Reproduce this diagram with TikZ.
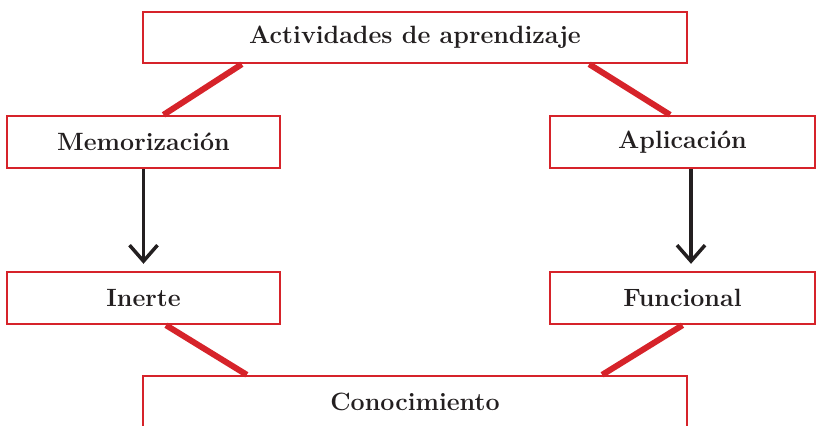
\documentclass[tikz,border=0pt]{standalone}
\usepackage{tikz}
\usetikzlibrary{arrows.meta}
\definecolor{boxred}{RGB}{214,35,42}
\definecolor{inkgray}{RGB}{35,31,32}

\begin{document}
\begin{tikzpicture}[x=0.5pt,y=-0.5pt,
  box/.style={draw=boxred,line width=1.2pt,fill=white,inner sep=0pt,text=inkgray,font=\fontsize{12.5}{15}\selectfont\bfseries},
  link/.style={draw=boxred,line width=3pt},
  flow/.style={draw=inkgray,line width=1.75pt,shorten >=3.5pt,-{Straight Barb[length=8pt,width=14pt]}}]
\useasboundingbox (0,0) rectangle (818,425);
\clip (0,0) rectangle (818,425);
\node[box,minimum width=272pt,minimum height=25.5pt] (act) at (415,37.5) {Actividades de aprendizaje};
\node[box,minimum width=136.5pt,minimum height=26pt] (mem) at (143.5,142) {Memorización};
\node[box,minimum width=132.5pt,minimum height=26pt] (apl) at (682.5,142) {Aplicación};
\node[box,minimum width=136.5pt,minimum height=26pt] (ine) at (143.5,298) {Inerte};
\node[box,minimum width=132.5pt,minimum height=26pt] (fun) at (682.5,298) {Funcional};
\node[box,minimum width=272pt,minimum height=26pt] (con) at (415,402) {Conocimiento};

\draw[link] ([xshift=50pt]act.south west) -- ([xshift=10pt]mem.north);
\draw[link] ([xshift=-49.5pt]act.south east) -- ([xshift=-6.25pt]apl.north);
\draw[link] ([xshift=11.25pt]ine.south) -- ([xshift=52.5pt]con.north west);
\draw[link] (fun.south) -- ([xshift=-43pt]con.north east);

\draw[flow] (mem) -- (ine);
\draw[flow] ([xshift=4.25pt]apl.south) -- ([xshift=4.25pt]fun.north);
\end{tikzpicture}
\end{document}
